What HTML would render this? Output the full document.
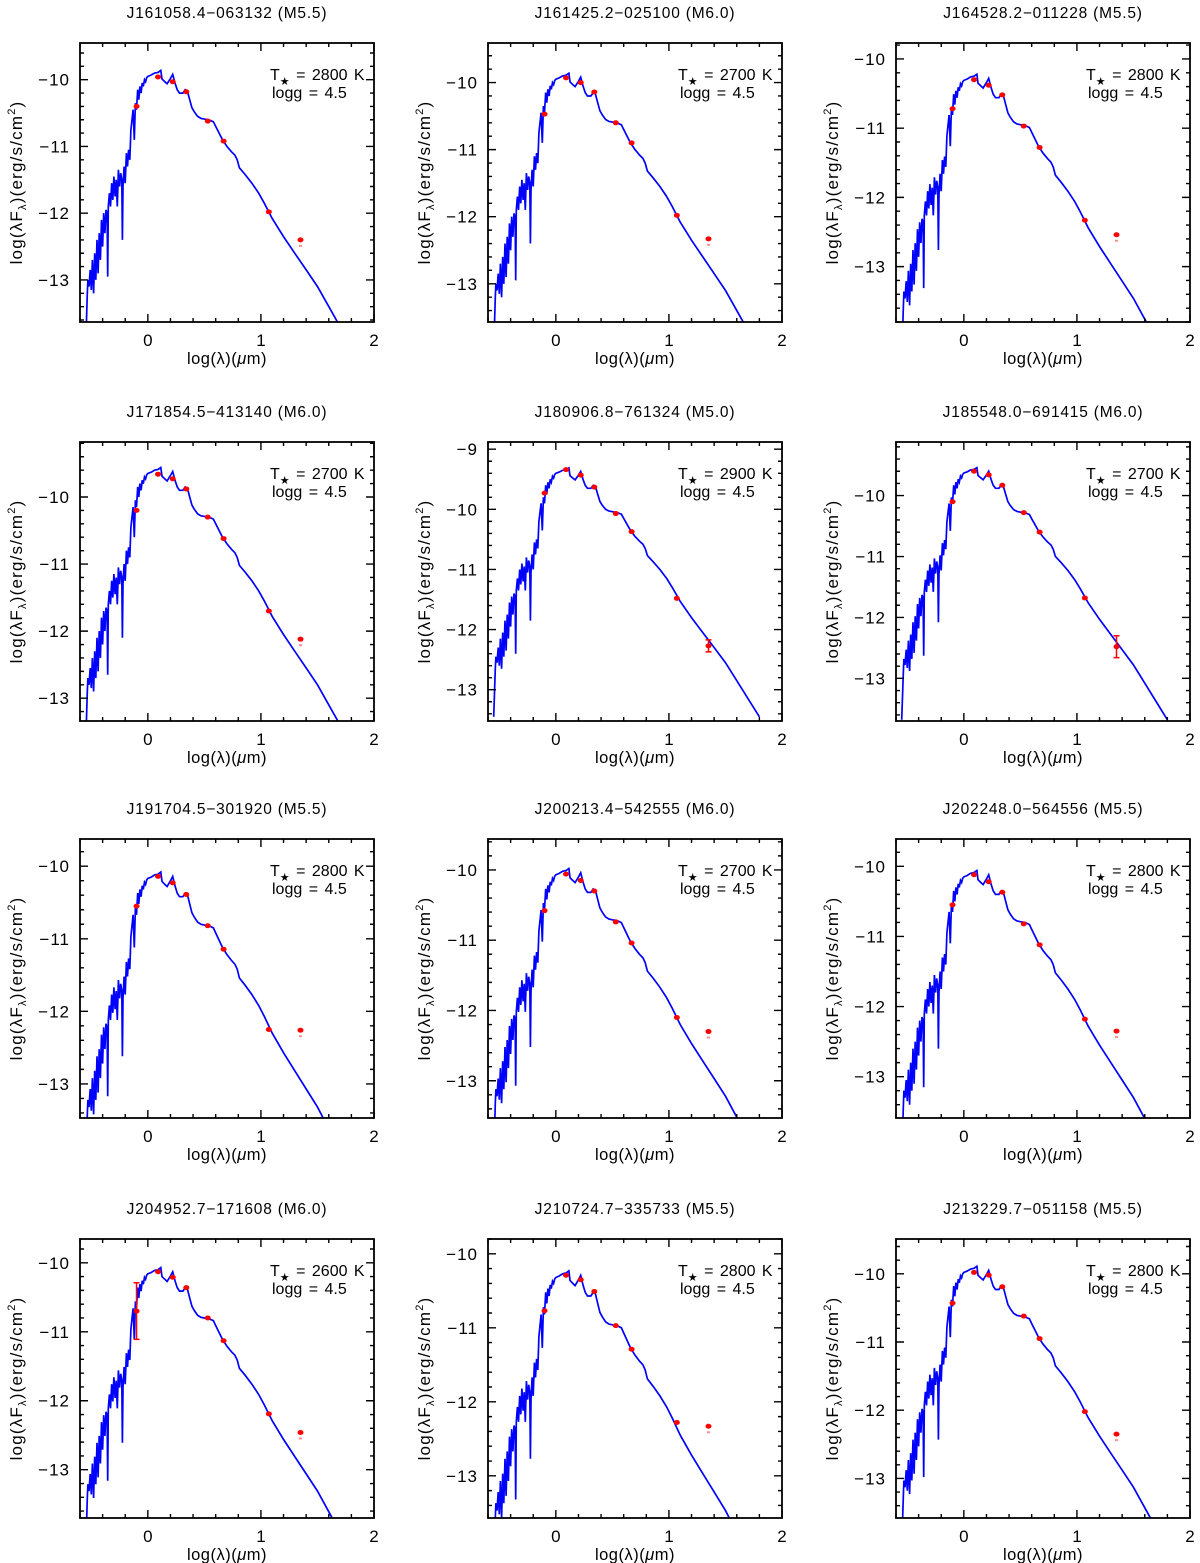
<!DOCTYPE html>
<html><head><meta charset="utf-8"><style>
html,body{margin:0;padding:0;background:#fff;}
svg{display:block;font-family:"Liberation Sans",sans-serif;}
</style></head><body>
<svg id="fig" width="1200" height="1563" viewBox="0 0 1200 1563" xmlns="http://www.w3.org/2000/svg"></svg>
<script>
// Model template (log lambda, log lambda*F_lambda for offset 0)
const modelX = [-0.55,-0.535,-0.53,-0.52,-0.51,-0.5,-0.49,-0.48,-0.47,-0.46,-0.45,-0.44,-0.43,-0.42,-0.41,-0.40,-0.39,-0.38,-0.37,-0.36,-0.355,-0.35,-0.34,-0.33,-0.32,-0.31,-0.30,-0.29,-0.28,-0.27,-0.26,-0.25,-0.24,-0.23,-0.225,-0.22,-0.21,-0.2,-0.19,-0.18,-0.17,-0.16,-0.15,-0.14,-0.13,-0.12,-0.11,-0.10,-0.09,-0.08,-0.07,-0.06,-0.05,-0.04,-0.03,-0.02,-0.01,0,0.03,0.06,0.09,0.115,0.125,0.15,0.17,0.2,0.22,0.24,0.26,0.28,0.31,0.33,0.35,0.37,0.39,0.41,0.44,0.47,0.5,0.54,0.58,0.6,0.63,0.66,0.7,0.74,0.77,0.79,0.81,0.86,0.92,0.98,1.03,1.1,1.2,1.3,1.4,1.5,1.6,1.7,1.8];
const modelY = [-14,-13.2,-13.0,-13.1,-12.85,-13.15,-12.7,-13.2,-12.6,-13.0,-12.4,-12.9,-12.3,-12.7,-12.1,-12.5,-12.0,-12.3,-11.95,-12.0,-12.95,-11.9,-11.7,-11.9,-11.55,-11.8,-11.45,-11.75,-11.5,-11.9,-11.35,-11.6,-11.4,-11.5,-12.4,-11.6,-11.3,-11.55,-11.1,-11.3,-11.05,-11.2,-10.75,-10.6,-10.45,-10.9,-10.35,-10.45,-10.15,-10.3,-10.1,-10.2,-10.05,-10.1,-10.0,-10.03,-9.97,-9.95,-9.93,-9.9,-9.89,-9.86,-9.99,-10.03,-10.06,-9.98,-9.92,-10.05,-10.15,-10.2,-10.2,-10.15,-10.17,-10.3,-10.42,-10.48,-10.55,-10.58,-10.59,-10.6,-10.63,-10.7,-10.8,-10.9,-11.0,-11.08,-11.13,-11.2,-11.32,-11.42,-11.55,-11.7,-11.85,-12.08,-12.35,-12.6,-12.85,-13.1,-13.4,-13.7,-14.0];
const photX = [-0.1,0.09,0.22,0.34,0.53,0.67,1.07,1.35];
// Per-panel data
const names = ["J161058.4\u2212063132 (M5.5)","J161425.2\u2212025100 (M6.0)","J164528.2\u2212011228 (M5.5)","J171854.5\u2212413140 (M6.0)","J180906.8\u2212761324 (M5.0)","J185548.0\u2212691415 (M6.0)","J191704.5\u2212301920 (M5.5)","J200213.4\u2212542555 (M6.0)","J202248.0\u2212564556 (M5.5)","J204952.7\u2212171608 (M6.0)","J210724.7\u2212335733 (M5.5)","J213229.7\u2212051158 (M5.5)"];
const temps = [2800,2700,2800,2700,2900,2700,2800,2700,2800,2600,2800,2800];
const offsets = [0,0,-0.36,0.3,0.55,0.32,-0.22,-0.12,-0.2,-0.21,-0.37,-0.03];
const yMins = [-13.63,-13.57,-13.8,-13.34,-13.52,-13.70,-13.47,-13.53,-13.59,-13.70,-13.57,-13.58];
const yMaxs = [-9.45,-9.41,-9.77,-9.18,-8.88,-9.12,-9.625,-9.56,-9.61,-9.655,-9.8,-9.49];
const photY = [
 [-10.4,-9.96,-10.03,-10.18,-10.62,-10.92,-11.98,-12.4],
 [-10.47,-9.93,-10.0,-10.14,-10.6,-10.9,-11.98,-12.33],
 [-10.72,-10.3,-10.38,-10.52,-10.97,-11.28,-12.33,-12.54],
 [-10.2,-9.66,-9.73,-9.88,-10.3,-10.62,-11.7,-12.12],
 [-9.73,-9.34,-9.43,-9.63,-10.07,-10.37,-11.48,-12.27],
 [-10.1,-9.6,-9.66,-9.83,-10.28,-10.6,-11.68,-12.48],
 [-10.55,-10.14,-10.23,-10.39,-10.82,-11.145,-12.25,-12.26],
 [-10.58,-10.06,-10.15,-10.3,-10.74,-11.04,-12.1,-12.3],
 [-10.55,-10.12,-10.22,-10.37,-10.82,-11.12,-12.18,-12.35],
 [-10.7,-10.13,-10.21,-10.36,-10.8,-11.13,-12.19,-12.46],
 [-10.77,-10.29,-10.35,-10.51,-10.97,-11.29,-12.28,-12.33],
 [-10.43,-9.98,-10.02,-10.19,-10.62,-10.95,-12.02,-12.35]];
const bigErr = [0,0,0,0,0.1,0.18,0,0,0,0.41,0,0];
const errIdx = [7,7,7,7,7,7,7,7,7,0,7,7];
const w4Limit = [1,1,1,1,0,0,1,1,1,1,1,1];
const xTicks = [0,1,2];

const svg = document.getElementById('fig');
const NS = 'http://www.w3.org/2000/svg';
function mk(tag, attrs, parent){const e=document.createElementNS(NS,tag);for(const k in attrs)e.setAttribute(k,attrs[k]);(parent||svg).appendChild(e);return e;}
const colX=[80,488,896], rowY=[43,442,839,1239], W=294, H=279, XMIN=-0.6, XMAX=2.0;

names.forEach((nm,i)=>{
  const c=i%3, r=Math.floor(i/3), x0=colX[c], y0=rowY[r];
  const g=mk('g',{});
  
  
  const ymin=yMins[i], ymax=yMaxs[i];
  const sx=v=>x0+(v-XMIN)/(XMAX-XMIN)*W;
  const sy=v=>y0+(ymax-v)/(ymax-ymin)*H;
  const t=mk('text',{x:x0+W/2,y:y0-25,'text-anchor':'middle','font-size':'15.5','letter-spacing':'0.8'},g); t.textContent=nm;
   
  const cp=mk('clipPath',{id:'cp'+i},g); mk('rect',{x:x0,y:y0,width:W,height:H},cp);
  let d='';
  modelX.forEach((mx,k)=>{d+=(k?'L':'M')+sx(mx).toFixed(1)+','+sy(modelY[k]+offsets[i]).toFixed(1);});
  const p=mk('path',{d:d,fill:'none',stroke:'#0000ff','stroke-width':'1.7','clip-path':'url(#cp'+i+')'},g);
   
  photX.forEach((px,k)=>{
    const X=sx(px), Y=sy(photY[i][k]);
    if(bigErr[i]>0 && errIdx[i]===k){
      const e=bigErr[i], y1=sy(photY[i][k]+e), y2=sy(photY[i][k]-e);
      mk('path',{d:`M${X},${y1}V${y2}M${X-3},${y1}H${X+3}M${X-3},${y2}H${X+3}`,stroke:'#ff0000','stroke-width':'1.5',fill:'none'},g);
    }
    const pt=mk('ellipse',{cx:X,cy:Y,rx:3,ry:2.5,fill:'#ff0000'},g);
     
    if(k===7 && w4Limit[i]) mk('rect',{x:X-1.5,y:Y+5,width:3,height:2,fill:'#ff9090'},g);
  });
  const b=mk('rect',{x:x0,y:y0,width:W,height:H,fill:'none',stroke:'#000','stroke-width':'1.8'},g);
   
  let td='';
  for(let v=-0.6;v<=2.001;v+=0.2){const X=sx(v);const maj=Math.abs(v-Math.round(v))<1e-6;const L=maj?8:4;td+=`M${X},${y0+H}v${-L}M${X},${y0}v${L}`;}
  const yStart=Math.ceil(ymin*5)/5;
  for(let v=yStart;v<=ymax+1e-6;v+=0.2){const Y=sy(v);const maj=Math.abs(v-Math.round(v))<1e-6;const L=maj?8:4;td+=`M${x0},${Y}h${L}M${x0+W},${Y}h${-L}`;}
  mk('path',{d:td,stroke:'#000','stroke-width':'1.4',fill:'none'},g);
  xTicks.forEach(v=>{const tl=mk('text',{x:sx(v),y:y0+H+24,'text-anchor':'middle','font-size':'17'},g);tl.textContent=String(v);
     });
  for(let v=Math.ceil(ymin);v<=Math.floor(ymax);v++){const tl=mk('text',{x:x0-10,y:sy(v)+6,'text-anchor':'end','font-size':'17','letter-spacing':'1'},g);tl.textContent='\u2212'+Math.abs(v);
     }
  const xl=mk('text',{x:x0+W/2,y:y0+H+42,'text-anchor':'middle','font-size':'16.5','letter-spacing':'0.5'},g);
  xl.innerHTML='log(\u03bb)(<tspan font-style="italic">\u03bc</tspan>m)';
   
  const cy=y0+H/2, lx=x0-58;
  const yl=mk('text',{x:lx,y:cy,'text-anchor':'middle','font-size':'17','letter-spacing':'1.2',transform:`rotate(-90 ${lx} ${cy})`},g);
  yl.innerHTML='log(\u03bbF<tspan font-size="11" dy="4">\u03bb</tspan><tspan dy="-4">)(erg/s/cm</tspan><tspan font-size="11" dy="-7">2</tspan><tspan dy="7">)</tspan>';
   
  const a1=mk('text',{x:x0+W-104,y:y0+37,'font-size':'16','word-spacing':'2'},g);
  a1.innerHTML=`T<tspan font-size="11" dy="5">\u2605</tspan><tspan dy="-5"> = ${temps[i]} K</tspan>`;
   
  const a2=mk('text',{x:x0+W-102,y:y0+55,'font-size':'16','word-spacing':'2'},g);
  a2.textContent='logg = 4.5';
   
});
</script>
</body></html>
